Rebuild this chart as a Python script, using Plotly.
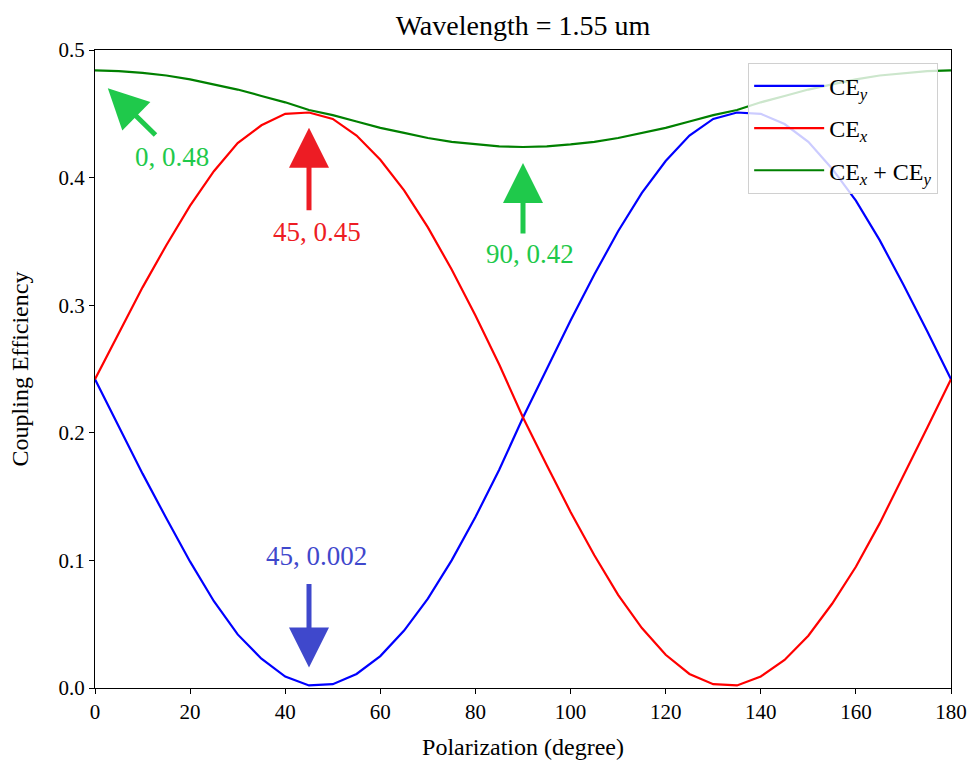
import plotly.graph_objects as go

# Polarization angle sweep (degrees) and coupling efficiencies per component
polarization = list(range(0, 181, 5))

ce_y = [0.242, 0.205, 0.168, 0.133, 0.099, 0.068, 0.042, 0.023, 0.009, 0.002,
        0.003, 0.011, 0.025, 0.045, 0.070, 0.100, 0.134, 0.171, 0.212, 0.250,
        0.288, 0.324, 0.358, 0.388, 0.413, 0.433, 0.446, 0.451, 0.450, 0.442,
        0.428, 0.407, 0.382, 0.351, 0.316, 0.2795, 0.242]

ce_x = [0.242, 0.2785, 0.314, 0.347, 0.378, 0.405, 0.427, 0.441, 0.450, 0.451,
        0.446, 0.433, 0.414, 0.390, 0.361, 0.328, 0.292, 0.2535, 0.212, 0.1745,
        0.138, 0.104, 0.073, 0.047, 0.026, 0.011, 0.003, 0.002, 0.009, 0.022,
        0.041, 0.066, 0.095, 0.129, 0.166, 0.204, 0.242]

ce_total = [a + b for a, b in zip(ce_x, ce_y)]

# Highlighted points: (angle, efficiency)
note_x = [0, 45, 90, 45]
note_y = [0.48, 0.45, 0.42, 0.002]
note_colors = ["#1fc94b", "#ed1c24", "#1fc94b", "#3f48cc"]
# arrow tail offsets (px), standoff, text shifts (px)
note_ax = [62, 0, 0, 0]
note_ay = [61, 98, 83, -103]
note_standoff = [18, 14, 11, 18]
note_dx = [77, 8, 7, 7]
note_dy = [-81, -118, -102, 129]

FONT = "Liberation Serif, Times New Roman, serif"

fig = go.Figure()
fig.add_trace(go.Scatter(x=polarization, y=ce_y, mode="lines",
                         line=dict(color="#0000ff", width=2.2),
                         name="CE<sub><i>y</i></sub>", legendgroup="a"))
fig.add_trace(go.Scatter(x=polarization, y=ce_x, mode="lines",
                         line=dict(color="#ff0000", width=2.2),
                         name="CE<sub><i>x</i></sub>", legendgroup="b"))
fig.add_trace(go.Scatter(x=polarization, y=ce_total, mode="lines",
                         line=dict(color="#008000", width=2.2),
                         name="CE<sub><i>x</i></sub> + CE<sub><i>y</i></sub>",
                         legendgroup="c"))

annotations = []
for i in range(len(note_x)):
    label = f"{note_x[i]}, {note_y[i]:g}"
    annotations.append(dict(
        x=note_x[i], y=note_y[i], xref="x", yref="y",
        text="", showarrow=True,
        ax=note_ax[i], ay=note_ay[i],
        arrowhead=2, arrowsize=1.6, arrowwidth=5,
        arrowcolor=note_colors[i], standoff=note_standoff[i],
    ))
    annotations.append(dict(
        x=note_x[i], y=note_y[i], xref="x", yref="y",
        text=label, showarrow=False,
        xshift=note_dx[i], yshift=note_dy[i],
        font=dict(family=FONT, size=27, color=note_colors[i]),
    ))

axis_common = dict(
    showline=True, mirror=True, linecolor="black", linewidth=1.2,
    ticks="outside", ticklen=5, tickwidth=1.2, tickcolor="black",
    showgrid=False, zeroline=False, automargin=False,
    tickfont=dict(family=FONT, size=21, color="black"),
)

fig.update_layout(
    template="none",
    width=972, height=766, autosize=False,
    margin=dict(l=95, r=21, t=50, b=78, pad=0),
    paper_bgcolor="white", plot_bgcolor="white",
    font=dict(family=FONT, color="black"),
    title=dict(text="Wavelength = 1.55 um", xref="paper", x=0.5, xanchor="center",
               yref="container", y=0.967, yanchor="middle",
               font=dict(family=FONT, size=28, color="black")),
    xaxis=dict(range=[0, 180], tick0=0, dtick=20,
               title=dict(text="Polarization (degree)", standoff=14,
                          font=dict(family=FONT, size=24, color="black")),
               **axis_common),
    yaxis=dict(range=[0, 0.5], tick0=0, dtick=0.1, tickformat=".1f",
               title=dict(text="Coupling Efficiency", standoff=23,
                          font=dict(family=FONT, size=24, color="black")),
               **axis_common),
    legend=dict(x=0.985, xanchor="right", y=0.98, yanchor="top",
                bgcolor="rgba(255,255,255,0.8)", bordercolor="#d0d0d0",
                borderwidth=1, traceorder="grouped", tracegroupgap=8,
                itemwidth=70,
                font=dict(family=FONT, size=24, color="black")),
    annotations=annotations,
    showlegend=True,
)

fig.write_html("out.html")
